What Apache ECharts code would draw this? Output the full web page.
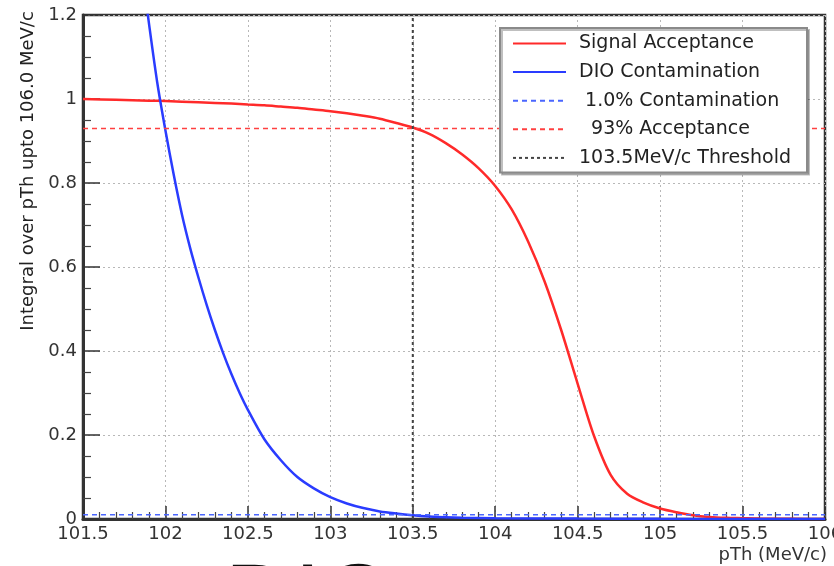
<!DOCTYPE html>
<html>
<head>
<meta charset="utf-8">
<script src="https://cdn.jsdelivr.net/npm/echarts@6/dist/echarts.min.js"></script>
<style>
	html, body { margin: 0; padding: 0; background: #fff; }
	#acceptance { width: 834px; height: 566px; }
</style>
</head>
<body>
<div id="acceptance"></div>
<script>
// signal acceptance vs pTh threshold
var signalP = [101.5, 101.7, 101.9, 102.0, 102.2, 102.4, 102.5, 102.6, 102.7, 102.8, 102.9, 103.0, 103.1, 103.2, 103.3, 103.4, 103.5, 103.6, 103.7, 103.8, 103.9, 104.0, 104.1, 104.2, 104.3, 104.4, 104.5, 104.6, 104.7, 104.8, 104.9, 105.0, 105.1, 105.2, 105.3, 105.4, 105.5, 105.6, 105.8, 106.0];
var signalAcc = [1.0, 0.998, 0.996, 0.995, 0.992, 0.989, 0.987, 0.985, 0.982, 0.979, 0.975, 0.971, 0.966, 0.96, 0.953, 0.943, 0.932, 0.917, 0.895, 0.868, 0.835, 0.793, 0.737, 0.66, 0.565, 0.45, 0.322, 0.197, 0.105, 0.06, 0.039, 0.025, 0.016, 0.009, 0.005, 0.003, 0.002, 0.001, 0.0005, 0.0];
// DIO contamination vs pTh threshold
var dioP = [101.75, 101.8, 101.85, 101.9, 101.95, 102.0, 102.05, 102.1, 102.15, 102.2, 102.25, 102.3, 102.35, 102.4, 102.45, 102.5, 102.6, 102.7, 102.8, 102.9, 103.0, 103.1, 103.2, 103.3, 103.4, 103.5, 103.6, 103.7, 103.8, 104.0, 104.5, 105.0, 106.0];
var dioCont = [1.65, 1.48, 1.33, 1.18, 1.04, 0.925, 0.82, 0.725, 0.645, 0.575, 0.51, 0.45, 0.395, 0.345, 0.3, 0.26, 0.19, 0.14, 0.1, 0.073, 0.052, 0.037, 0.026, 0.018, 0.013, 0.009, 0.006, 0.004, 0.003, 0.002, 0.001, 0.0005, 0.0];
// reference levels
var contLevel = 0.01;
var accLevel = 0.93;
var thresholdP = 103.5;
// axis ticks
var xTicks = [101.5, 102, 102.5, 103, 103.5, 104, 104.5, 105, 105.5, 106];
var xTickLabels = ['101.5', '102', '102.5', '103', '103.5', '104', '104.5', '105', '105.5', '106'];
var yTicks = [0, 0.2, 0.4, 0.6, 0.8, 1.0, 1.2];
var yTickLabels = ['0', '0.2', '0.4', '0.6', '0.8', '1', '1.2'];

function pairs(xs, ys) {
	var out = [];
	for (var i = 0; i < xs.length; i++) {
		out.push([xs[i], ys[i]]);
	}
	return out;
}

function tickLabel(ticks, labels) {
	return function(v) {
		for (var i = 0; i < ticks.length; i++) {
			if (Math.abs(ticks[i] - v) < 1e-6) return labels[i];
		}
		return '';
	};
}

function acceptanceChart() {
	var myChart = echarts.init(document.getElementById('acceptance'));
	var font = 'DejaVu Sans';
	var option = {
		animation: false,
		grid: {
			left: 83,
			top: 15,
			right: 9,
			bottom: 47,
			outerBoundsMode: 'none',
			containLabel: false,
			show: true,
			borderColor: '#333',
			borderWidth: 2.5
		},
		legend: {
			orient: 'vertical',
			left: 500,
			top: 28,
			z: 10,
			padding: [6, 16, 5, 12],
			itemWidth: 53,
			itemHeight: 14,
			itemGap: 9.6,
			backgroundColor: '#fff',
			borderColor: '#8a8a8a',
			borderWidth: 2,
			shadowColor: 'rgba(0,0,0,0.25)',
			shadowOffsetX: 2,
			shadowOffsetY: 2,
			itemStyle: { opacity: 0 },
			textStyle: {
				fontFamily: font,
				fontSize: 19,
				lineHeight: 18,
				color: '#222',
				padding: [0, 0, 0, 8]
			},
			data: ['Signal Acceptance', 'DIO Contamination', ' 1.0% Contamination', '  93% Acceptance', '103.5MeV/c Threshold']
		},
		xAxis: {
			type: 'value',
			min: 101.5,
			max: 106,
			interval: 0.5,
			name: 'pTh (MeV/c)',
			nameLocation: 'end',
			nameGap: 2,
			nameTextStyle: {
				fontFamily: font,
				fontSize: 18,
				color: '#333',
				align: 'right',
				verticalAlign: 'top',
				padding: [27, 0, 0, 0]
			},
			axisLine: { lineStyle: { color: '#333', width: 3 } },
			axisTick: { inside: true, length: 13, lineStyle: { color: '#333', width: 1.5 } },
			minorTick: { show: true, splitNumber: 5, length: 7, lineStyle: { color: '#444', width: 1.2 } },
			axisLabel: {
				margin: 6,
				fontFamily: font,
				fontSize: 18,
				color: '#333',
				showMaxLabel: true,
				formatter: tickLabel(xTicks, xTickLabels)
			},
			splitLine: { show: true, lineStyle: { color: '#b8b8b8', type: [2, 3], width: 1 } }
		},
		yAxis: {
			type: 'value',
			min: 0,
			max: 1.2,
			interval: 0.2,
			axisLine: { show: true, lineStyle: { color: '#333', width: 3 } },
			axisTick: { show: true, inside: true, length: 17, lineStyle: { color: '#333', width: 1.5 } },
			minorTick: { show: true, splitNumber: 4, length: 8, lineStyle: { color: '#444', width: 1.2 } },
			axisLabel: {
				margin: 6,
				fontFamily: font,
				fontSize: 18,
				color: '#333',
				formatter: tickLabel(yTicks, yTickLabels)
			},
			splitLine: { show: true, lineStyle: { color: '#b8b8b8', type: [2, 3], width: 1 } }
		},
		series: [{
			name: 'Signal Acceptance',
			type: 'line',
			symbol: 'none',
			smooth: 0.3,
			lineStyle: { color: '#ff2a2a', width: 2.5 },
			itemStyle: { color: '#ff2a2a' },
			data: pairs(signalP, signalAcc)
		}, {
			name: 'DIO Contamination',
			type: 'line',
			symbol: 'none',
			smooth: 0.3,
			lineStyle: { color: '#2a3cff', width: 2.5 },
			itemStyle: { color: '#2a3cff' },
			data: pairs(dioP, dioCont)
		}, {
			name: ' 1.0% Contamination',
			type: 'line',
			symbol: 'none',
			lineStyle: { color: '#4a66ff', width: 1.5, type: [5, 4] },
			itemStyle: { color: '#4a66ff' },
			data: [[101.5, contLevel], [106, contLevel]]
		}, {
			name: '  93% Acceptance',
			type: 'line',
			symbol: 'none',
			lineStyle: { color: '#ff4040', width: 1.5, type: [5, 4] },
			itemStyle: { color: '#ff4040' },
			data: [[101.5, accLevel], [106, accLevel]]
		}, {
			name: '103.5MeV/c Threshold',
			type: 'line',
			symbol: 'none',
			lineStyle: { color: '#444', width: 2, type: [3, 3] },
			itemStyle: { color: '#444' },
			data: [[thresholdP, 0], [thresholdP, 1.2]]
		}],
		graphic: [{
			type: 'text',
			x: 28,
			y: 171,
			rotation: Math.PI / 2,
			style: {
				text: 'Integral over pTh upto 106.0 MeV/c',
				fontFamily: font,
				fontSize: 18,
				fill: '#222',
				textAlign: 'center',
				textVerticalAlign: 'middle'
			}
		}, {
			type: 'text',
			x: 225,
			y: 605,
			style: {
				text: 'DIO',
				fontFamily: 'Liberation Sans',
				fontSize: 96,
				fill: '#111',
				textAlign: 'left',
				textVerticalAlign: 'middle'
			}
		}]
	};
	myChart.setOption(option);
}
acceptanceChart();
</script>
</body>
</html>
